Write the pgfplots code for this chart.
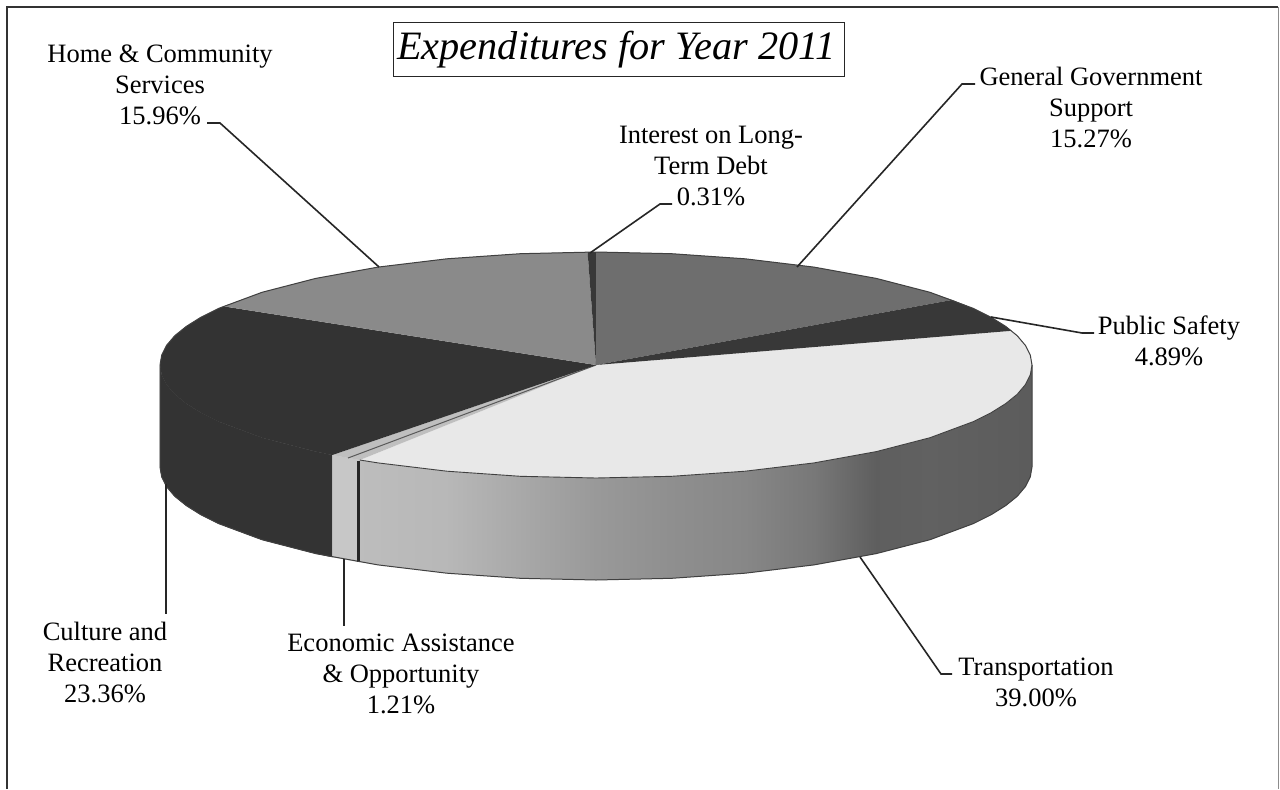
\documentclass[border=0pt]{standalone}
\usepackage{pgfplots}
\pgfplotsset{compat=1.18}
\usepackage{fontspec}
\setmainfont{Liberation Serif}
\newcommand{\lab}{\fontsize{26.5}{31}\selectfont}
% light falling from the left along the Transportation wall
\pgfdeclarehorizontalshading{wall}{100bp}{
  color(0bp)=(black!26); color(25bp)=(black!26); color(31.5bp)=(black!28); color(37bp)=(black!34);
  color(42.6bp)=(black!40); color(48.2bp)=(black!44); color(53.6bp)=(black!47); color(58.8bp)=(black!53);
  color(63.4bp)=(black!63); color(67.4bp)=(black!62); color(75bp)=(black!64); color(100bp)=(black!64)}
\begin{document}
\begin{tikzpicture}
\begin{axis}[
  at={(0,0)}, anchor=south west,
  hide axis, scale only axis, clip=false,
  width=1280pt, height=789pt,
  xmin=0, xmax=1280, ymin=0, ymax=789, y dir=reverse,
]
% page background and frame
\addplot[fill=white, draw=none] coordinates {(0,0) (1280,0) (1280,789) (0,789)} -- cycle;
\addplot[black!80, line width=1.4pt] coordinates {(7,789) (7,7) (1278,7)};
\addplot[black!45, line width=1pt] coordinates {(1278,7) (1278,789)};

% outer wall: Culture and Recreation
\addplot[fill=black!80, draw=black!80, line width=.4pt] coordinates {
  (160,365) (161.7,374.8) (166.5,384.6) (174.8,394.3) (186.3,403.6) (201,412.8) (218.4,421.5) (262,437.7) (315.7,451.6) (332.4,455)
  (332.4,557) (315.7,553.6) (262,539.7) (218.4,523.5) (201,514.8) (186.3,505.6) (174.8,496.3) (166.5,486.6) (161.7,476.8) (160,467)} -- cycle;
% outer wall: Economic Assistance
\addplot[fill=black!22, draw=black!22, line width=.4pt] coordinates {
  (332.4,455) (359.8,460) (359.8,562) (332.4,557)} -- cycle;
% outer wall: Transportation
\addplot[shading=wall, draw=none] coordinates {
  (359.8,460) (378,462.9) (446.9,471.2) (520.3,476.3) (596,478) (671.7,476.3) (745.1,471.2) (814,462.9)
  (876.3,451.6) (930,437.7) (973.6,421.5) (991,412.8) (1005.7,403.6) (1017.2,394.3) (1025.4,384.6) (1030.3,374.8) (1032,365)
  (1032,467) (1030.3,476.8) (1025.4,486.6) (1017.2,496.3) (1005.7,505.6) (991,514.8) (973.6,523.5) (930,539.7) (876.3,553.6)
  (814,564.9) (745.1,573.2) (671.7,578.3) (596,580) (520.3,578.3) (446.9,573.2) (378,564.9) (359.8,562)} -- cycle;
% dark seam between the Economic Assistance and Transportation walls
\addplot[black!85, line width=2.6pt] coordinates {(358.5,461) (358.5,562)};

% top faces, one wedge per share of the budget
% Transportation 39.00%
\addplot[fill=black!9, draw=none] coordinates {
  (596,365) (1011.5,330.8) (1017.2,335.7) (1025.4,345.4) (1030.3,355.2) (1032,365) (1030.3,374.8) (1025.4,384.6) (1017.2,394.3)
  (1005.7,403.6) (991,412.8) (973.6,421.5) (930,437.7) (876.3,451.6) (814,462.9) (745.1,471.2) (671.7,476.3) (596,478) (520.3,476.3)
  (446.9,471.2) (378,462.9) (359.8,460)} -- cycle;
% Economic Assistance 1.21%
\addplot[fill=black!25, draw=none] coordinates {(596,365) (359.8,460) (332.4,455)} -- cycle;
\addplot[black!65, line width=1pt] coordinates {(596,365) (348,458)};
% Culture and Recreation 23.36%
\addplot[fill=black!80, draw=none] coordinates {
  (596,365) (332.4,455) (315.7,451.6) (262,437.7) (218.4,421.5) (201,412.8) (186.3,403.6) (174.8,394.3) (166.5,384.6) (161.7,374.8) (160,365)
  (161.7,355.2) (166.5,345.4) (174.8,335.7) (186.3,326.4) (201,317.2) (218.4,308.5) (223.4,306.3)} -- cycle;
% Home and Community Services 15.96%
\addplot[fill=black!46, draw=none] coordinates {
  (596,365) (223.4,306.3) (262,292.3) (315.7,278.4) (378,267.1) (446.9,258.8) (520.3,253.7) (587.6,252)} -- cycle;
% Interest on Long-Term Debt 0.31%
\addplot[fill=black!78, draw=none] coordinates {(596,365) (587.6,252) (596,252)} -- cycle;
% General Government Support 15.27%
\addplot[fill=black!57, draw=none] coordinates {
  (596,365) (596,252) (671.7,253.7) (745.1,258.8) (814,267.1) (876.3,278.4) (930,292.3) (952.2,299.9)} -- cycle;
% Public Safety 4.89%
\addplot[fill=black!78, draw=none] coordinates {
  (596,365) (952.2,299.9) (973.6,308.5) (991,317.2) (1005.7,326.4) (1011.5,330.8)} -- cycle;

% rim of the disc
\addplot[black!75, line width=1pt] coordinates {
  (160,467) (161.7,476.8) (166.5,486.6) (174.8,496.3) (186.3,505.6) (201,514.8) (218.4,523.5) (262,539.7) (315.7,553.6) (378,564.9) (446.9,573.2)
  (520.3,578.3) (596,580) (671.7,578.3) (745.1,573.2) (814,564.9) (876.3,553.6) (930,539.7) (973.6,523.5) (991,514.8)
  (1005.7,505.6) (1017.2,496.3) (1025.4,486.6) (1030.3,476.8) (1032,467) (1032,365) (1030.3,355.2) (1025.4,345.4) (1017.2,335.7) (1005.7,326.4) (991,317.2) (973.6,308.5) (930,292.3)
  (876.3,278.4) (814,267.1) (745.1,258.8) (671.7,253.7) (596,252) (520.3,253.7) (446.9,258.8) (378,267.1)
  (315.7,278.4) (262,292.3) (218.4,308.5) (201,317.2) (186.3,326.4) (174.8,335.7) (166.5,345.4) (161.7,355.2) (160,365) (160,467)};
\addplot[black!75, line width=.9pt] coordinates {
  (359.8,460) (378,462.9) (446.9,471.2) (520.3,476.3) (596,478) (671.7,476.3) (745.1,471.2) (814,462.9)
  (876.3,451.6) (930,437.7) (973.6,421.5) (991,412.8) (1005.7,403.6) (1017.2,394.3) (1025.4,384.6) (1030.3,374.8) (1032,365)};

% leader lines
\addplot[black!85, line width=1.6pt] coordinates {(207,123) (220,123) (379,267)};
\addplot[black!85, line width=1.6pt] coordinates {(672,204) (660,204) (590,253)};
\addplot[black!85, line width=1.6pt] coordinates {(975,84) (962,84) (797,267)};
\addplot[black!85, line width=1.6pt] coordinates {(1094,333) (1082,333) (991,317)};
\addplot[black!85, line width=1.6pt] coordinates {(952,674) (941,674) (860,557)};
\addplot[black!85, line width=1.6pt] coordinates {(344,559) (344,626)};
\addplot[black!85, line width=1.6pt] coordinates {(166,484) (166,614)};

% title box and labels
\node[draw=black!85, line width=1pt, fill=white, inner sep=0pt, minimum width=451pt, minimum height=54pt]
      at (axis cs:618.5,49) {};
\node[inner sep=0pt, font=\fontsize{40.3}{44}\selectfont\itshape] at (axis cs:616.5,50) {Expenditures for Year 2011};
\node[align=center, font=\lab] at (axis cs:160,85) {Home \& Community\\Services\\15.96\%};
\node[align=center, font=\lab] at (axis cs:711,166) {Interest on Long-\\Term Debt\\0.31\%};
\node[align=center, font=\lab] at (axis cs:1091,107) {General Government\\Support\\15.27\%};
\node[align=center, font=\lab] at (axis cs:1169,341) {Public Safety\\4.89\%};
\node[align=center, font=\lab] at (axis cs:1036,682) {Transportation\\39.00\%};
\node[align=center, font=\lab] at (axis cs:401,674) {Economic Assistance\\\& Opportunity\\1.21\%};
\node[align=center, font=\lab] at (axis cs:105,662) {Culture and\\Recreation\\23.36\%};
\end{axis}
\end{tikzpicture}
\end{document}
